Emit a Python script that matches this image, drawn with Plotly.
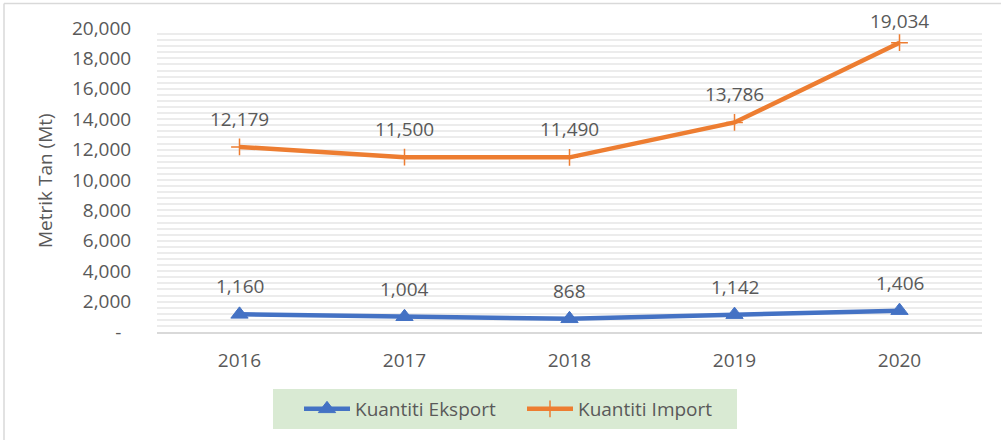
import plotly.graph_objects as go

years = ["2016", "2017", "2018", "2019", "2020"]
eksport = [1160, 1004, 868, 1142, 1406]
importq = [12179, 11500, 11490, 13786, 19034]
y_tickvals = [0, 2000, 4000, 6000, 8000, 10000, 12000, 14000, 16000, 18000, 20000]
y_ticktext = ["-\u00a0\u00a0", "2,000", "4,000", "6,000", "8,000", "10,000", "12,000",
              "14,000", "16,000", "18,000", "20,000"]

W, H = 1001, 440
L, R, T, B = 157, 982, 28, 332
PW, PH = R - L, B - T


def px(x):
    return (x - L) / PW


def py(y):
    return (B - y) / PH


FONT = "Open Sans"
FS = 19
GRAY = "#595959"
BLUE = "#4472C4"
ORANGE = "#ED7D31"

fig = go.Figure()
fig.add_trace(go.Scatter(
    x=years, y=eksport, name="Kuantiti Eksport", mode="lines+markers",
    line=dict(color=BLUE, width=4.5),
    marker=dict(symbol="triangle-up", size=15, color=BLUE, line=dict(color=BLUE, width=1)),
))
fig.add_trace(go.Scatter(
    x=years, y=importq, name="Kuantiti Import", mode="lines+markers",
    line=dict(color=ORANGE, width=4.5),
    marker=dict(symbol="cross-thin", size=12, color=ORANGE, line=dict(color=ORANGE, width=1.5)),
))

annotations = []
for series in (eksport, importq):
    for i, yv in enumerate(series):
        shift = 22 if yv > 18000 else 28
        annotations.append(dict(
            x=i, y=yv, xref="x", yref="y", text=f"{yv:,}", showarrow=False, yshift=shift,
            xanchor="center", yanchor="middle",
            font=dict(family=FONT, size=FS, color=GRAY),
        ))
annotations.append(dict(
    x=px(45), y=0.5, xref="paper", yref="paper", text="Metrik Tan (Mt)",
    showarrow=False, textangle=-90, xanchor="center", yanchor="middle",
    font=dict(family=FONT, size=FS, color=GRAY),
))

shapes = [
    dict(type="line", xref="paper", yref="paper", x0=px(4), x1=px(1001), y0=py(3.5), y1=py(3.5),
         line=dict(color="#d9d9d9", width=1.5)),
    dict(type="line", xref="paper", yref="paper", x0=px(4), x1=px(4), y0=py(3.5), y1=py(440),
         line=dict(color="#d9d9d9", width=1.5)),
    dict(type="rect", xref="paper", yref="paper", x0=px(273), x1=px(737), y0=py(429), y1=py(389),
         fillcolor="#d9ead3", line=dict(width=0), layer="below"),
]

fig.update_layout(
    width=W, height=H,
    margin=dict(l=L, r=W - R, t=T, b=H - B, autoexpand=False),
    paper_bgcolor="white", plot_bgcolor="white",
    font=dict(family=FONT, size=FS, color=GRAY),
    showlegend=True,
    legend=dict(
        orientation="h", x=px(299), y=py(409), xanchor="left", yanchor="middle",
        bgcolor="rgba(0,0,0,0)", font=dict(family=FONT, size=FS, color=GRAY),
        itemwidth=46, entrywidth=162, traceorder="normal",
    ),
    annotations=annotations,
    shapes=shapes,
    xaxis=dict(
        type="category", range=[-0.5, 4.5], showgrid=False, zeroline=False,
        showline=True, linecolor="#d9d9d9", linewidth=2,
        ticks="outside", ticklen=10, tickcolor="rgba(0,0,0,0)",
        tickfont=dict(family=FONT, size=FS, color=GRAY),
    ),
    yaxis=dict(
        range=[0, 20000], tickvals=y_tickvals, ticktext=y_ticktext,
        showgrid=True, gridcolor="#ececec", gridwidth=2, zeroline=False,
        showline=False,
        ticks="outside", ticklen=21, tickcolor="rgba(0,0,0,0)",
        tickfont=dict(family=FONT, size=FS, color=GRAY),
        minor=dict(dtick=400, tick0=0, showgrid=True, gridcolor="#ececec", gridwidth=2),
    ),
)

fig.write_html("out.html", config={"displayModeBar": False},
               post_script="document.body.style.margin='0';document.body.style.overflow='hidden';")
